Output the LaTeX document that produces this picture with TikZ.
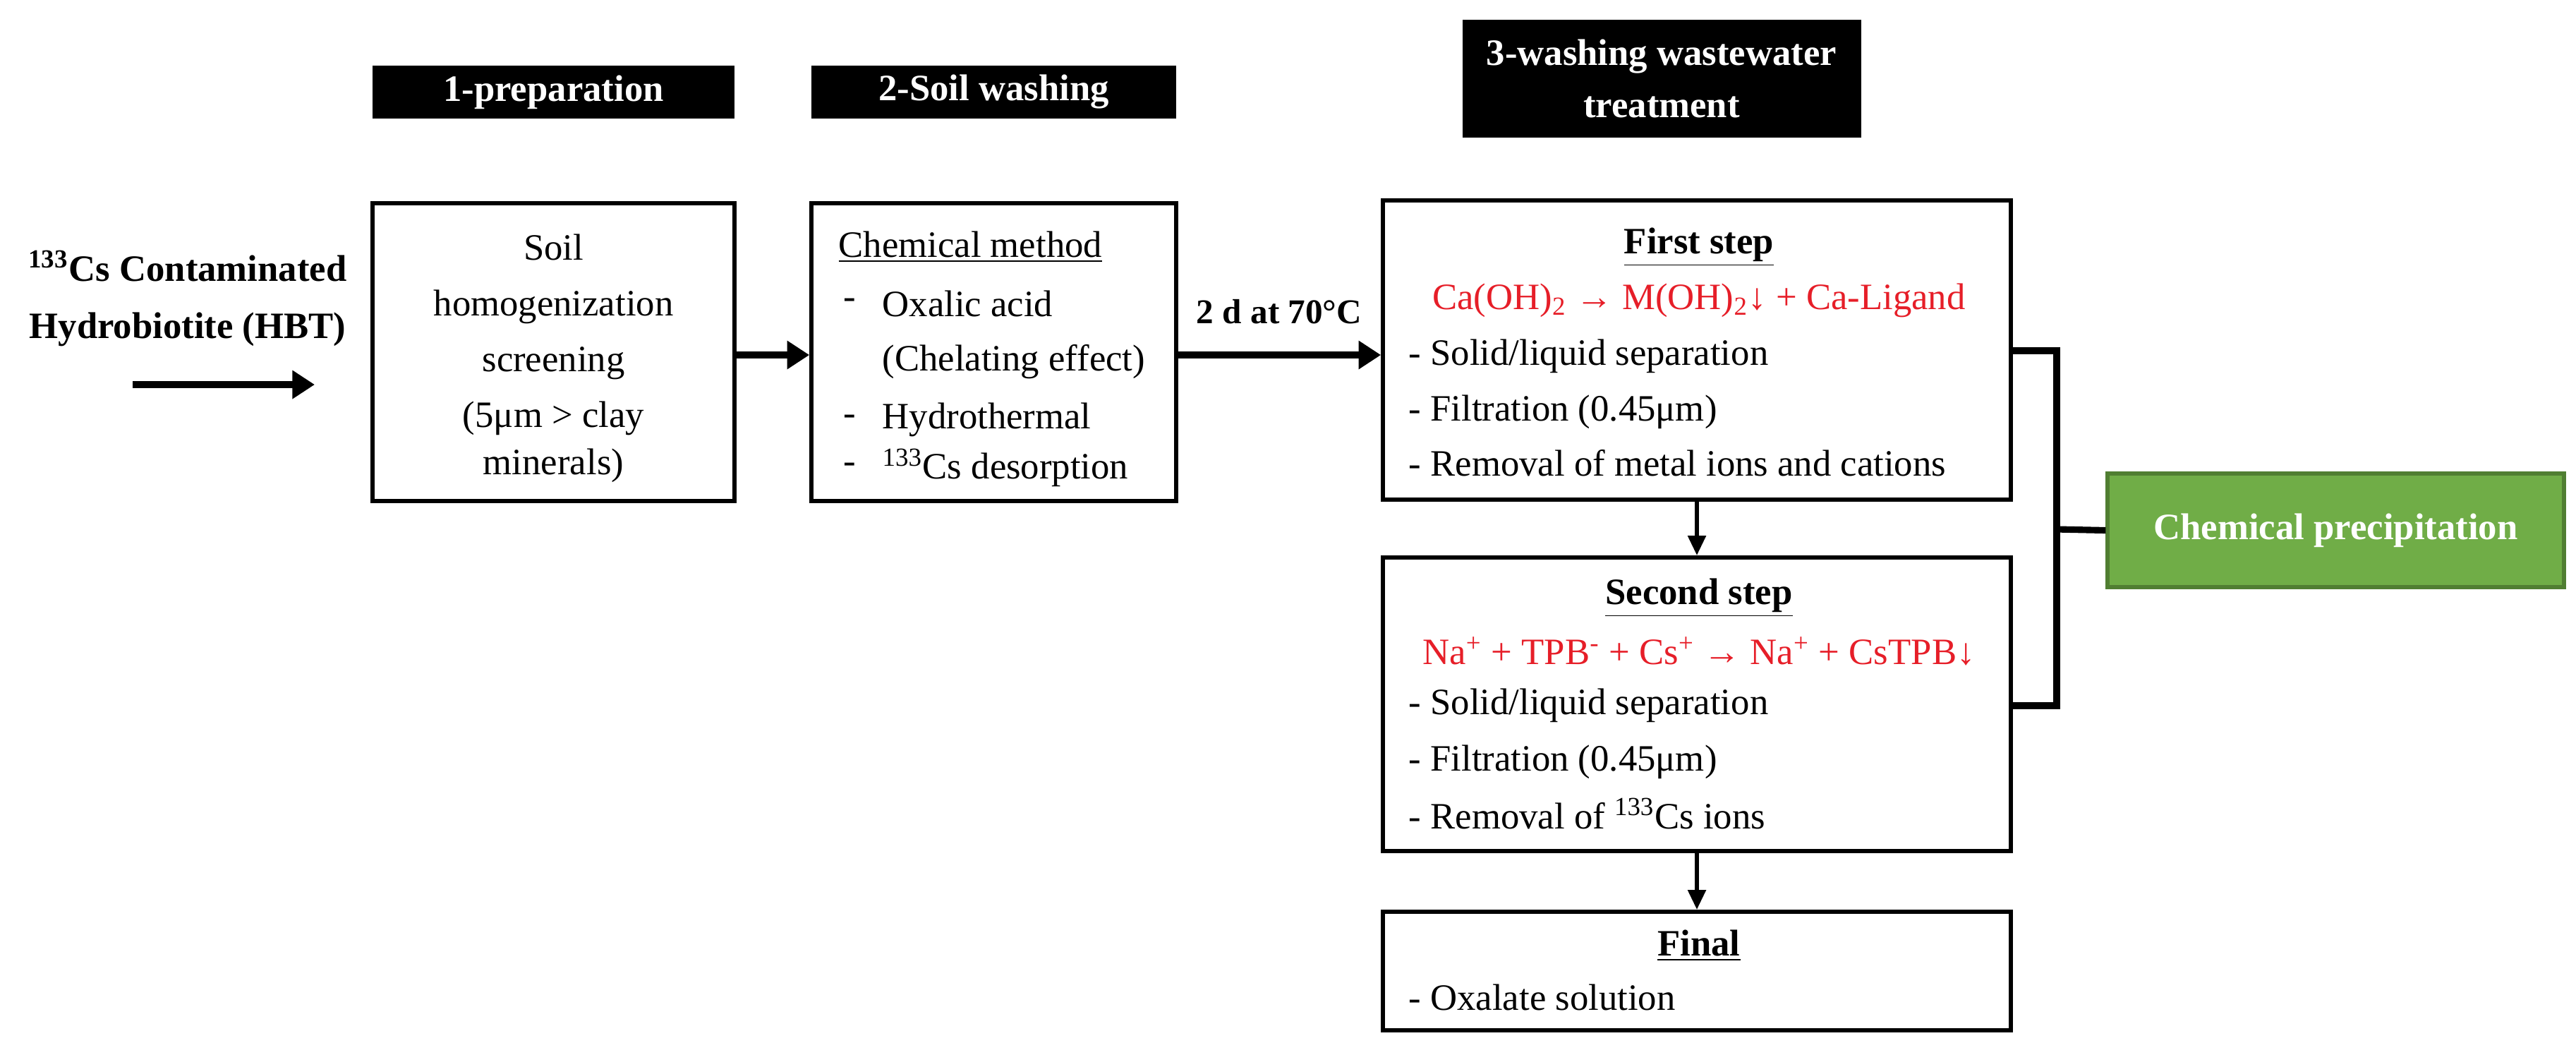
\documentclass[tikz,border=0pt]{standalone}
\usepackage{fontspec}
\setmainfont{Liberation Serif}
\usetikzlibrary{arrows.meta}
\definecolor{eqred}{RGB}{230,30,40}
\definecolor{gfill}{RGB}{112,173,71}
\definecolor{gdraw}{RGB}{80,126,50}
\begin{document}
\begin{tikzpicture}[x=1cm,y=1cm,
  font=\fontsize{15}{18}\selectfont,
  box/.style={draw=black,line width=1.6pt,minimum height=0pt,inner sep=0pt},
  head/.style={fill=black,text=white,font=\fontsize{15}{19}\selectfont\bfseries,align=center,inner sep=0pt},
  txt/.style={inner sep=0pt,anchor=west},
  ctr/.style={inner sep=0pt,anchor=center,align=center},
  red/.style={text=eqred},
  big/.style={-{Triangle[length=9pt,width=11pt]},line width=2.6pt},
  small/.style={-{Triangle[length=8pt,width=7pt]},line width=1.8pt},
  ttl/.style={font=\fontsize{15}{18}\selectfont\bfseries}]
\useasboundingbox (0,0) rectangle (36.51,-14.94);
% headers
\node[head,minimum width=5.13cm,minimum height=0.75cm] (h1) at (7.845,-1.305) {1-preparation};
\node[head,minimum width=5.17cm,minimum height=0.75cm] (h2) at (14.085,-1.305) {2-Soil washing};
\node[head,minimum width=5.65cm,minimum height=1.67cm] (h3) at (23.55,-1.115) {3-washing wastewater\\[2pt]treatment};
% boxes
\node[box,minimum width=5.13cm,minimum height=4.22cm] (b1) at (7.845,-4.99) {};
\node[box,minimum width=5.17cm,minimum height=4.22cm] (b2) at (14.085,-4.99) {};
\node[box,minimum width=8.9cm,minimum height=4.24cm] (b3) at (24.05,-4.96) {};
\node[box,minimum width=8.9cm,minimum height=4.16cm] (b4) at (24.05,-9.98) {};
\node[box,minimum width=8.9cm,minimum height=1.68cm] (b5) at (24.05,-13.76) {};
\node[fill=gfill,draw=gdraw,line width=1.5pt,minimum width=6.47cm,minimum height=1.61cm,text=white,font=\fontsize{15}{18}\selectfont\bfseries] (g) at (33.105,-7.515) {Chemical precipitation};
% left input
\node[ctr,font=\fontsize{15}{18}\selectfont\bfseries] (inp) at (2.66,-4.23) {\textsuperscript{133}Cs Contaminated\\[5pt]Hydrobiotite (HBT)};
\coordinate (a0) at (1.88,-5.45);
\coordinate (a1) at (4.46,-5.45);
\draw[big] (a0) -- (a1);
% box1 text
\node[ctr] (t1) at (7.845,-5.08) {Soil\\[4.5pt]homogenization\\[4.5pt]screening\\[4.5pt](5μm > clay\\[1pt]minerals)};
% box2 text
\node[txt] (c0) at (11.88,-3.50) {\underline{Chemical method}};
\node[txt] (c1) at (11.95,-4.30) {-};
\node[txt] (c1t) at (12.50,-4.30) {Oxalic acid};
\node[txt] (c2t) at (12.50,-5.13) {(Chelating effect)};
\node[txt] (c3) at (11.95,-5.95) {-};
\node[txt] (c3t) at (12.50,-5.95) {Hydrothermal};
\node[txt] (c4) at (11.95,-6.63) {-};
\node[txt] (c4t) at (12.50,-6.63) {\textsuperscript{133}Cs desorption};
% arrows 1->2->3
\draw[big] (b1.east |- 0,-5.03) -- (b2.west |- 0,-5.03);
\draw[big] (b2.east |- 0,-5.03) -- (b3.west |- 0,-5.03);
\node[ctr,font=\fontsize{14}{17}\selectfont\bfseries] (lbl) at (18.13,-4.42) {2 d at 70°C};
% box3 text
\node[ctr,ttl] (s1) at (24.08,-3.50) {\underline{First step}};
\node[ctr,red] (e1) at (24.08,-4.26) {Ca(OH)\textsubscript{2} → M(OH)\textsubscript{2}↓ + Ca-Ligand};
\node[txt] (f1) at (19.96,-5.05) {- Solid/liquid separation};
\node[txt] (f2) at (19.96,-5.84) {- Filtration (0.45μm)};
\node[txt] (f3) at (19.96,-6.56) {- Removal of metal ions and cations};
% box4 text
\node[ctr,ttl] (s2) at (24.08,-8.47) {\underline{Second step}};
\node[ctr,red] (e2) at (24.08,-9.23) {Na\textsuperscript{+} + TPB\textsuperscript{-} + Cs\textsuperscript{+} → Na\textsuperscript{+} + CsTPB↓};
\node[txt] (g1) at (19.96,-10.00) {- Solid/liquid separation};
\node[txt] (g2) at (19.96,-10.80) {- Filtration (0.45μm)};
\node[txt] (g3) at (19.96,-11.53) {- Removal of \textsuperscript{133}Cs ions};
% final text
\node[ctr,ttl] (s3) at (24.08,-13.40) {\underline{Final}};
\node[txt] (k1) at (19.96,-14.13) {- Oxalate solution};
% vertical arrows
\draw[small] (b3.south) -- (b4.north);
\draw[small] (b4.south) -- (b5.north);
% bracket
\coordinate (br1) at (29.15,-4.97);
\coordinate (br2) at (29.15,-10.00);
\coordinate (br3) at (29.15,-7.50);
\draw[line width=2.6pt] (b3.east |- br1) -- (br1) -- (br2) -- (b4.east |- br2);
\draw[line width=2.6pt] (br3) -- (g.west);
\end{tikzpicture}
\end{document}
